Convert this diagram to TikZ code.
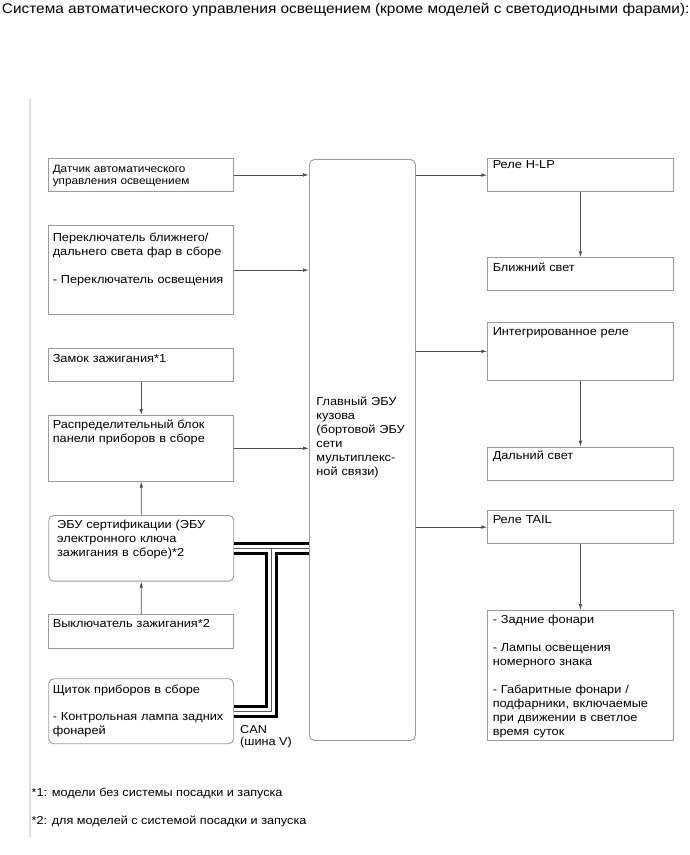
\documentclass[tikz,border=0pt]{standalone}
\usepackage{fontspec}
\setmainfont{Liberation Sans}[FakeStretch=1.1]
\usetikzlibrary{arrows.meta,positioning}

\definecolor{boxgray}{HTML}{9A9A9A}
\definecolor{linegray}{HTML}{505050}
\definecolor{rulegray}{HTML}{DCDCDC}

\newcommand{\txttitle}{\fontsize{14}{17}\selectfont}
\newcommand{\txtnorm}{\fontsize{11.6}{14}\selectfont}
\newcommand{\txtsmall}{\fontsize{10.7}{12}\selectfont}
\newcommand{\txtnote}{\fontsize{11.5}{12}\selectfont}

\begin{document}
\begin{tikzpicture}[x=1pt, y=-1pt, >={Latex[length=6pt,width=3.6pt]}]
    \tikzstyle{unit} = [rectangle, draw=boxgray, line width=0.9pt, anchor=north west, align=left, inner ysep=0pt, inner xsep=4pt, font=\txtnorm]
    \tikzstyle{leftunit} = [unit, text width=177pt]
    \tikzstyle{rightunit} = [unit, inner xsep=5pt, text width=175.4pt]
    \tikzstyle{ecu} = [rounded corners=5pt]
    \tikzstyle{arrow} = [draw=linegray, line width=0.8pt, ->]
    \tikzstyle{canbus} = [line width=13pt, black, line join=miter,
        postaction={draw, white, line width=7pt, line join=miter},
        postaction={draw, black!65, line width=0.9pt, line join=miter}]
    \useasboundingbox (0,0) rectangle (690,855);

    \node[anchor=base west, inner sep=0pt, font=\txttitle] (title) at (1.7,13.3)
        {Система автоматического управления освещением (кроме моделей с светодиодными фарами):};
    \draw[rulegray, line width=1.3pt] (30,99) -- (30,837);

    % inputs
    \node[leftunit, font=\txtsmall, text height=14pt, text depth=18.4pt] (sensor) at (48.3,158.3)
        {Датчик автоматического\\управления освещением};
    \node[leftunit, text height=16pt, text depth=73.3pt] (switch) at (48.3,225)
        {Переключатель ближнего/\\дальнего света фар в сборе\\[14pt]- Переключатель освещения};
    \node[leftunit, text height=13.4pt, text depth=19.3pt] (lock) at (48.3,348.3)
        {Замок зажигания*1};
    \node[leftunit, text height=13.3pt, text depth=52.4pt] (junction) at (48.3,415)
        {Распределительный блок\\панели приборов в сборе};
    \node[leftunit, ecu, inner xsep=8.4pt, text width=168.2pt, text height=13pt, text depth=52.7pt] (certecu) at (48.3,515)
        {ЭБУ сертификации (ЭБУ\\электронного ключа\\зажигания в сборе)*2};
    \node[leftunit, text height=13.3pt, text depth=20.4pt] (ignsw) at (48.3,614)
        {Выключатель зажигания*2};
    \node[leftunit, ecu, text height=14.4pt, text depth=50.6pt] (meter) at (48.3,678.3)
        {Щиток приборов в сборе\\[13.3pt]- Контрольная лампа задних\\фонарей};

    % main ECU
    \node[unit, ecu, inner xsep=7pt, text width=92pt, text height=246pt, text depth=335pt] (bodyecu) at (309,159)
        {Главный ЭБУ\\кузова\\(бортовой ЭБУ\\сети\\мультиплекс-\\ной связи)};

    % outputs
    \node[rightunit, text height=10pt, text depth=22.7pt] (hlp) at (487.3,158.3) {Реле H-LP};
    \node[rightunit, text height=13.4pt, text depth=19.3pt] (low) at (487.3,257.3) {Ближний свет};
    \node[rightunit, text height=13.3pt, text depth=45pt] (intrelay) at (487.3,321.7) {Интегрированное реле};
    \node[rightunit, text height=12.6pt, text depth=20.7pt] (high) at (487.3,446.7) {Дальний свет};
    \node[rightunit, text height=13.3pt, text depth=20pt] (tail) at (487.3,510) {Реле TAIL};
    \node[rightunit, text height=13.3pt, text depth=116.7pt] (lamps) at (487.3,610)
        {- Задние фонари\\[14pt]- Лампы освещения\\номерного знака\\[14pt]- Габаритные фонари /\\подфарники, включаемые\\при движении в светлое\\время суток};

    % CAN line
    \coordinate (tap) at (271.3,547.85);
    \draw[canbus] (certecu.east) -- (certecu.east -| bodyecu.west)
        (tap) -- (tap |- meter.east) -- (meter.east);
    \node[anchor=base west, inner sep=0pt, align=left, font=\txtnote] (canlabel) at (240,745.5) {CAN\\(шина V)};

    \draw[arrow] (sensor.east) -- (sensor.east -| bodyecu.west);
    \draw[arrow] (switch.east) -- (switch.east -| bodyecu.west);
    \draw[arrow] (junction.east) -- (junction.east -| bodyecu.west);
    \draw[arrow] (lock) -- (junction);
    \draw[arrow] (certecu) -- (junction);
    \draw[arrow] (ignsw) -- (certecu);

    \draw[arrow] (bodyecu.east |- hlp.west) -- (hlp.west);
    \draw[arrow] (bodyecu.east |- intrelay.west) -- (intrelay.west);
    \draw[arrow] (bodyecu.east |- tail.west) -- (tail.west);
    \draw[arrow] (hlp) -- (low);
    \draw[arrow] (intrelay) -- (high);
    \draw[arrow] (tail) -- (lamps);

    % notes
    \node[anchor=base west, inner sep=0pt, font=\txtnote] (note1) at (31.5,796) {*1: модели без системы посадки и запуска};
    \node[anchor=base west, inner sep=0pt, font=\txtnote] (note2) at (31.5,824) {*2: для моделей с системой посадки и запуска};
\end{tikzpicture}
\end{document}
